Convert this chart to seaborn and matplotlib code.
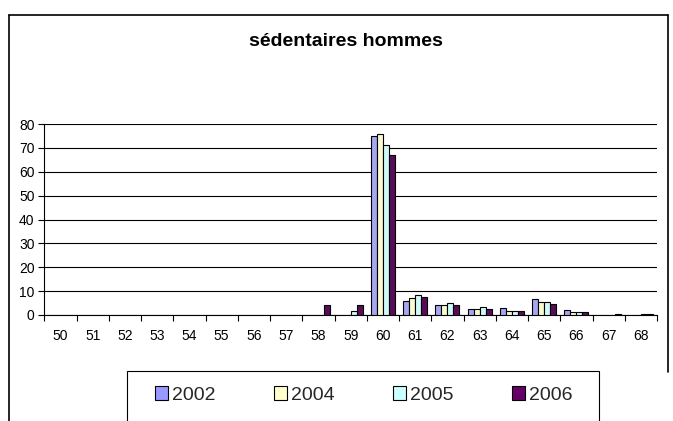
import numpy as np
import pandas as pd
import matplotlib
matplotlib.use("Agg")
import matplotlib.pyplot as plt
import seaborn as sns
from matplotlib.lines import Line2D
from matplotlib.patches import Rectangle

# -------------------------------------------------------
# Data
# -------------------------------------------------------

ages = [str(a) for a in range(50, 69)]
years = ["2002", "2004", "2005", "2006"]

#            50 51 52 53 54 55 56 57 58   59   60   61   62   63   64   65   66   67   68
val_2002 = [0, 0, 0, 0, 0, 0, 0, 0, 0,   0,   75,  6,   4,   2.5, 2.8, 6.5, 2,   0,   0]
val_2004 = [0, 0, 0, 0, 0, 0, 0, 0, 0,   0,   76,  7,   4,   2.5, 1.8, 5.3, 1.2, 0,   0]
val_2005 = [0, 0, 0, 0, 0, 0, 0, 0, 0,   1.5, 71,  8.3, 5,   3.5, 1.8, 5.3, 1.2, 0,   0.5]
val_2006 = [0, 0, 0, 0, 0, 0, 0, 0, 4,   4,   67,  7.5, 4,   2.5, 1.8, 4.5, 1.2, 0.6, 0.6]

colors = ["#9999FF", "#FFFFCC", "#CCFFFF", "#660066"]

rows = []
for year, vals in zip(years, [val_2002, val_2004, val_2005, val_2006]):
    for age, v in zip(ages, vals):
        rows.append({"age": age, "year": year, "value": v if v > 0 else np.nan})
df = pd.DataFrame(rows)

# -------------------------------------------------------
# Plot
# -------------------------------------------------------

sns.set_theme(style="white")
plt.rcParams["font.family"] = ["Liberation Sans", "DejaVu Sans"]

fig = plt.figure(figsize=(6.73, 4.21), dpi=100)
ax = fig.add_axes([44.3 / 673, 1 - 315 / 421, (657 - 44.3) / 673, (315 - 124) / 421])

sns.barplot(
    data=df, x="age", y="value", hue="year",
    order=ages, hue_order=years, palette=colors,
    width=0.75, edgecolor="black", linewidth=0.8,
    legend=False, ax=ax, zorder=3,
)

ax.set_xlim(-0.5, len(ages) - 0.5)
ax.set_ylim(0, 80)
ax.set_yticks(range(0, 81, 10))
ax.set_xlabel("")
ax.set_ylabel("")

ax.yaxis.grid(True, color="black", linewidth=0.8, zorder=0)
ax.xaxis.grid(False)
for side in ["top", "right"]:
    ax.spines[side].set_visible(False)
for side in ["left", "bottom"]:
    ax.spines[side].set_color("black")
    ax.spines[side].set_linewidth(0.8)

ax.tick_params(axis="y", which="major", left=True, length=4, width=0.8,
               color="black", labelsize=10, pad=3, labelcolor="black")
ax.tick_params(axis="x", which="major", bottom=False, length=0,
               labelsize=10, pad=10, labelcolor="black")
ax.set_xticks(np.arange(-0.5, len(ages), 1.0), minor=True)
ax.tick_params(axis="x", which="minor", bottom=True, length=4, width=0.8, color="black")

fig.text(346 / 673, 1 - 42 / 421, "sédentaires hommes", ha="center", va="center",
         fontsize=14, fontweight="bold", color="black")

# outer chart frame
fig.add_artist(Line2D([8.5 / 673, 8.5 / 673], [0, 1 - 15 / 421], color="black", lw=1.2))
fig.add_artist(Line2D([8.5 / 673, 668 / 673], [1 - 15 / 421, 1 - 15 / 421], color="black", lw=1.2))
fig.add_artist(Line2D([668 / 673, 668 / 673], [1 - 15 / 421, 1 - 372 / 421], color="black", lw=1.2))

# legend box runs off the bottom of the picture
fig.add_artist(Rectangle((127 / 673, -0.05), (599 - 127) / 673, 0.05 + 1 - 371 / 421,
                         transform=fig.transFigure, facecolor="none",
                         edgecolor="black", linewidth=0.8))

handles = [plt.Rectangle((0, 0), 1, 1, facecolor=c, edgecolor="black", linewidth=0.8)
           for c in colors]
fig.legend(
    handles, years, loc="center", bbox_to_anchor=(364 / 673, 1 - 395 / 421),
    ncol=4, fontsize=14, frameon=False,
    handlelength=0.68, handleheight=0.68, handletextpad=0.2,
    columnspacing=3.0, borderpad=0, borderaxespad=0,
)

fig.savefig("out.png", dpi=100)
